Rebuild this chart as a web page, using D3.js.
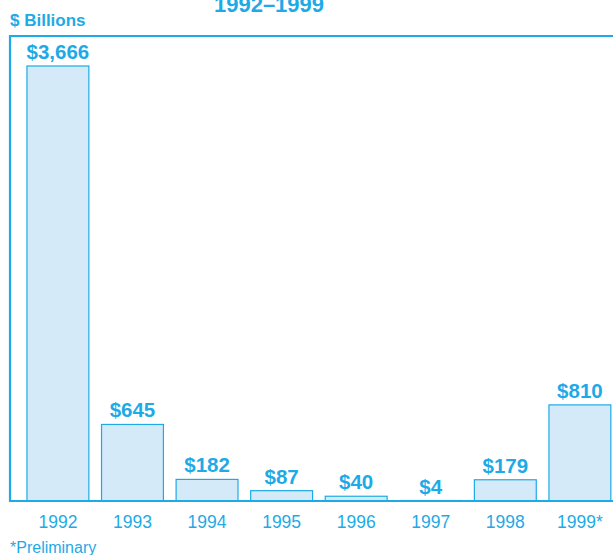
<!DOCTYPE html>
<html lang="en">
<head>
  <meta charset="UTF-8">
  <title>$ Billions 1992–1999</title>
  <script src="https://d3js.org/d3.v7.min.js"></script>
  <style>
    body { margin: 0; background: #fff; }
  </style>
</head>
<body>
  <svg id="chart" width="613" height="555"></svg>

  <script>
    // chart data
    const years = ['1992', '1993', '1994', '1995', '1996', '1997', '1998', '1999*'];
    const values = [3666, 645, 182, 87, 40, 4, 179, 810];
    const valueLabels = ['$3,666', '$645', '$182', '$87', '$40', '$4', '$179', '$810'];

    const blue = '#1eaae6';
    const barFill = '#d4eaf9';
    const font = '"Liberation Sans", Arial, sans-serif';

    const svg = d3.select('#chart');

    // plot area (frame runs off the right edge like the original)
    const frameLeft = 10, frameTop = 36, baseline = 501, frameRight = 625;

    const x = d3.scaleBand()
      .domain(years)
      .range([19.5, 618.3])
      .paddingInner(0.17)
      .paddingOuter(0.1);

    const y = d3.scaleLinear()
      .domain([0, 3666])
      .range([baseline, 66]);

    // title, cut off at the top as in the source
    svg.append('text')
      .attr('x', 269)
      .attr('y', 12)
      .attr('text-anchor', 'middle')
      .style('font-family', font)
      .style('font-weight', 'bold')
      .style('font-size', '22px')
      .style('fill', blue)
      .text('1992–1999');

    svg.append('text')
      .attr('x', 10)
      .attr('y', 26)
      .style('font-family', font)
      .style('font-weight', 'bold')
      .style('font-size', '17px')
      .style('fill', blue)
      .text('$ Billions');

    // bars
    svg.selectAll('rect.bar')
      .data(values)
      .enter().append('rect')
      .attr('class', 'bar')
      .attr('x', (d, i) => x(years[i]))
      .attr('y', d => y(d))
      .attr('width', x.bandwidth())
      .attr('height', d => baseline - y(d))
      .style('fill', barFill)
      .style('stroke', blue)
      .style('stroke-width', 1.2);

    // value labels
    svg.selectAll('text.val')
      .data(values)
      .enter().append('text')
      .attr('class', 'val')
      .attr('x', (d, i) => x(years[i]) + x.bandwidth() / 2)
      .attr('y', d => y(d) - 7)
      .attr('text-anchor', 'middle')
      .style('font-family', font)
      .style('font-weight', 'bold')
      .style('font-size', '20.5px')
      .style('fill', blue)
      .text((d, i) => valueLabels[i]);

    // frame: top, left, baseline
    svg.append('path')
      .attr('d', `M${frameRight},${frameTop}H${frameLeft}V${baseline}H${frameRight}`)
      .style('fill', 'none')
      .style('stroke', blue)
      .style('stroke-width', 2.2);

    // year axis
    const axis = svg.append('g')
      .attr('transform', `translate(0,${baseline})`)
      .call(d3.axisBottom(x).tickSize(0).tickPadding(14.5));
    axis.select('.domain').remove();
    axis.selectAll('text')
      .style('font-family', font)
      .style('font-size', '17.5px')
      .style('fill', blue);

    svg.append('text')
      .attr('x', 10)
      .attr('y', 553)
      .style('font-family', font)
      .style('font-size', '16px')
      .style('fill', blue)
      .text('*Preliminary');
  </script>
</body>
</html>
